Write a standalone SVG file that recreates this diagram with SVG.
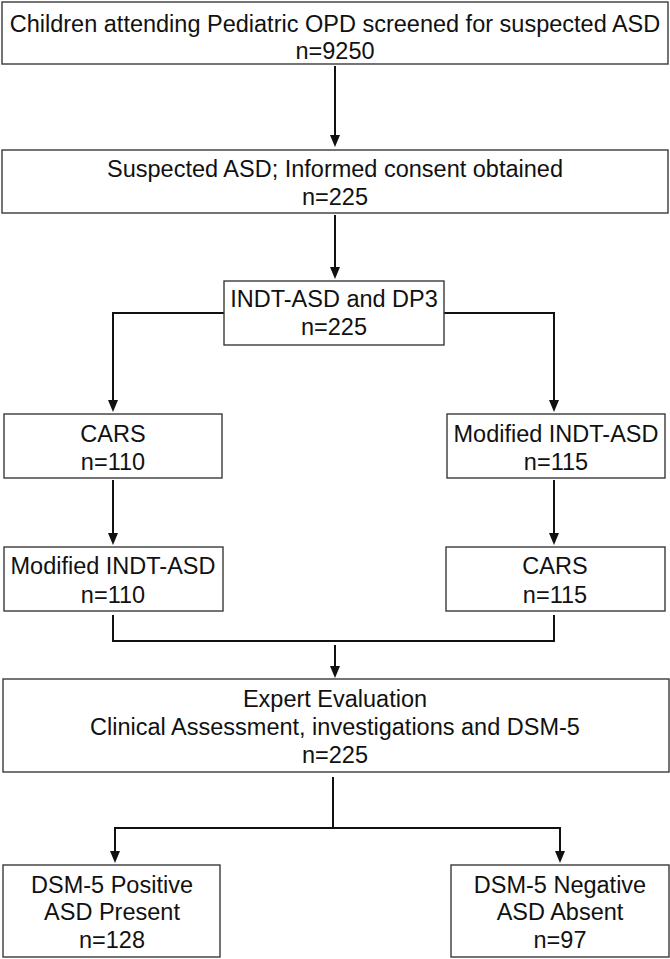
<svg xmlns="http://www.w3.org/2000/svg" width="670" height="959" viewBox="0 0 670 959">
<style>
.box{fill:#fff;stroke:#3a3a3a;stroke-width:1.4}
.t{font-family:"Liberation Sans",Arial,sans-serif;font-size:23.5px;fill:#111;text-anchor:middle}
.c{fill:none;stroke:#111;stroke-width:2}
.ah{fill:#111}
</style>
<rect width="670" height="959" fill="#fff"/>
<g id="connectors">
<line class="c" x1="335" y1="66" x2="335" y2="135"/>
<path class="ah" d="M330,135 L340,135 L335,147 Z"/>
<line class="c" x1="335" y1="215" x2="335" y2="267"/>
<path class="ah" d="M330,267 L340,267 L335,279 Z"/>
<path class="c" d="M224,313 H113 V400"/>
<path class="ah" d="M108,400 L118,400 L113,412 Z"/>
<path class="c" d="M444,313 H554 V400"/>
<path class="ah" d="M549,400 L559,400 L554,412 Z"/>
<line class="c" x1="113" y1="480" x2="113" y2="533"/>
<path class="ah" d="M108,533 L118,533 L113,545 Z"/>
<line class="c" x1="554" y1="480" x2="554" y2="533"/>
<path class="ah" d="M549,533 L559,533 L554,545 Z"/>
<path class="c" d="M113,615 V641 H554 V615"/>
<line class="c" x1="335" y1="645" x2="335" y2="666"/>
<path class="ah" d="M330,666 L340,666 L335,678 Z"/>
<line class="c" x1="333" y1="777" x2="333" y2="828"/>
<path class="c" d="M115,851 V828 H560 V851"/>
<path class="ah" d="M110,851 L120,851 L115,863 Z"/>
<path class="ah" d="M555,851 L565,851 L560,863 Z"/>
</g>
<g id="n1"><rect class="box" x="2" y="2" width="666" height="62"/>
<text class="t" x="335" y="32">Children attending Pediatric OPD screened for suspected ASD</text>
<text class="t" x="335" y="59">n=9250</text></g>
<g id="n2"><rect class="box" x="2" y="150" width="666" height="63"/>
<text class="t" x="335" y="177">Suspected ASD; Informed consent obtained</text>
<text class="t" x="335" y="205">n=225</text></g>
<g id="n3"><rect class="box" x="224" y="281" width="220" height="64"/>
<text class="t" x="334" y="307">INDT-ASD and DP3</text>
<text class="t" x="334" y="335">n=225</text></g>
<g id="n4"><rect class="box" x="4" y="414" width="218" height="64"/>
<text class="t" x="113" y="442">CARS</text>
<text class="t" x="113" y="470">n=110</text></g>
<g id="n5"><rect class="box" x="447" y="414" width="218" height="64"/>
<text class="t" x="556" y="442">Modified INDT-ASD</text>
<text class="t" x="556" y="470">n=115</text></g>
<g id="n6"><rect class="box" x="4" y="547" width="219" height="64"/>
<text class="t" x="113" y="574">Modified INDT-ASD</text>
<text class="t" x="113" y="603">n=110</text></g>
<g id="n7"><rect class="box" x="446" y="547" width="219" height="64"/>
<text class="t" x="555" y="574">CARS</text>
<text class="t" x="555" y="603">n=115</text></g>
<g id="n8"><rect class="box" x="3" y="679" width="666" height="93"/>
<text class="t" x="335" y="707">Expert Evaluation</text>
<text class="t" x="335" y="735">Clinical Assessment, investigations and DSM-5</text>
<text class="t" x="335" y="763">n=225</text></g>
<g id="n9"><rect class="box" x="3" y="865" width="217" height="92"/>
<text class="t" x="112" y="893">DSM-5 Positive</text>
<text class="t" x="112" y="920">ASD Present</text>
<text class="t" x="112" y="948">n=128</text></g>
<g id="n10"><rect class="box" x="451" y="865" width="218" height="92"/>
<text class="t" x="560" y="893">DSM-5 Negative</text>
<text class="t" x="560" y="920">ASD Absent</text>
<text class="t" x="560" y="948">n=97</text></g>
</svg>
